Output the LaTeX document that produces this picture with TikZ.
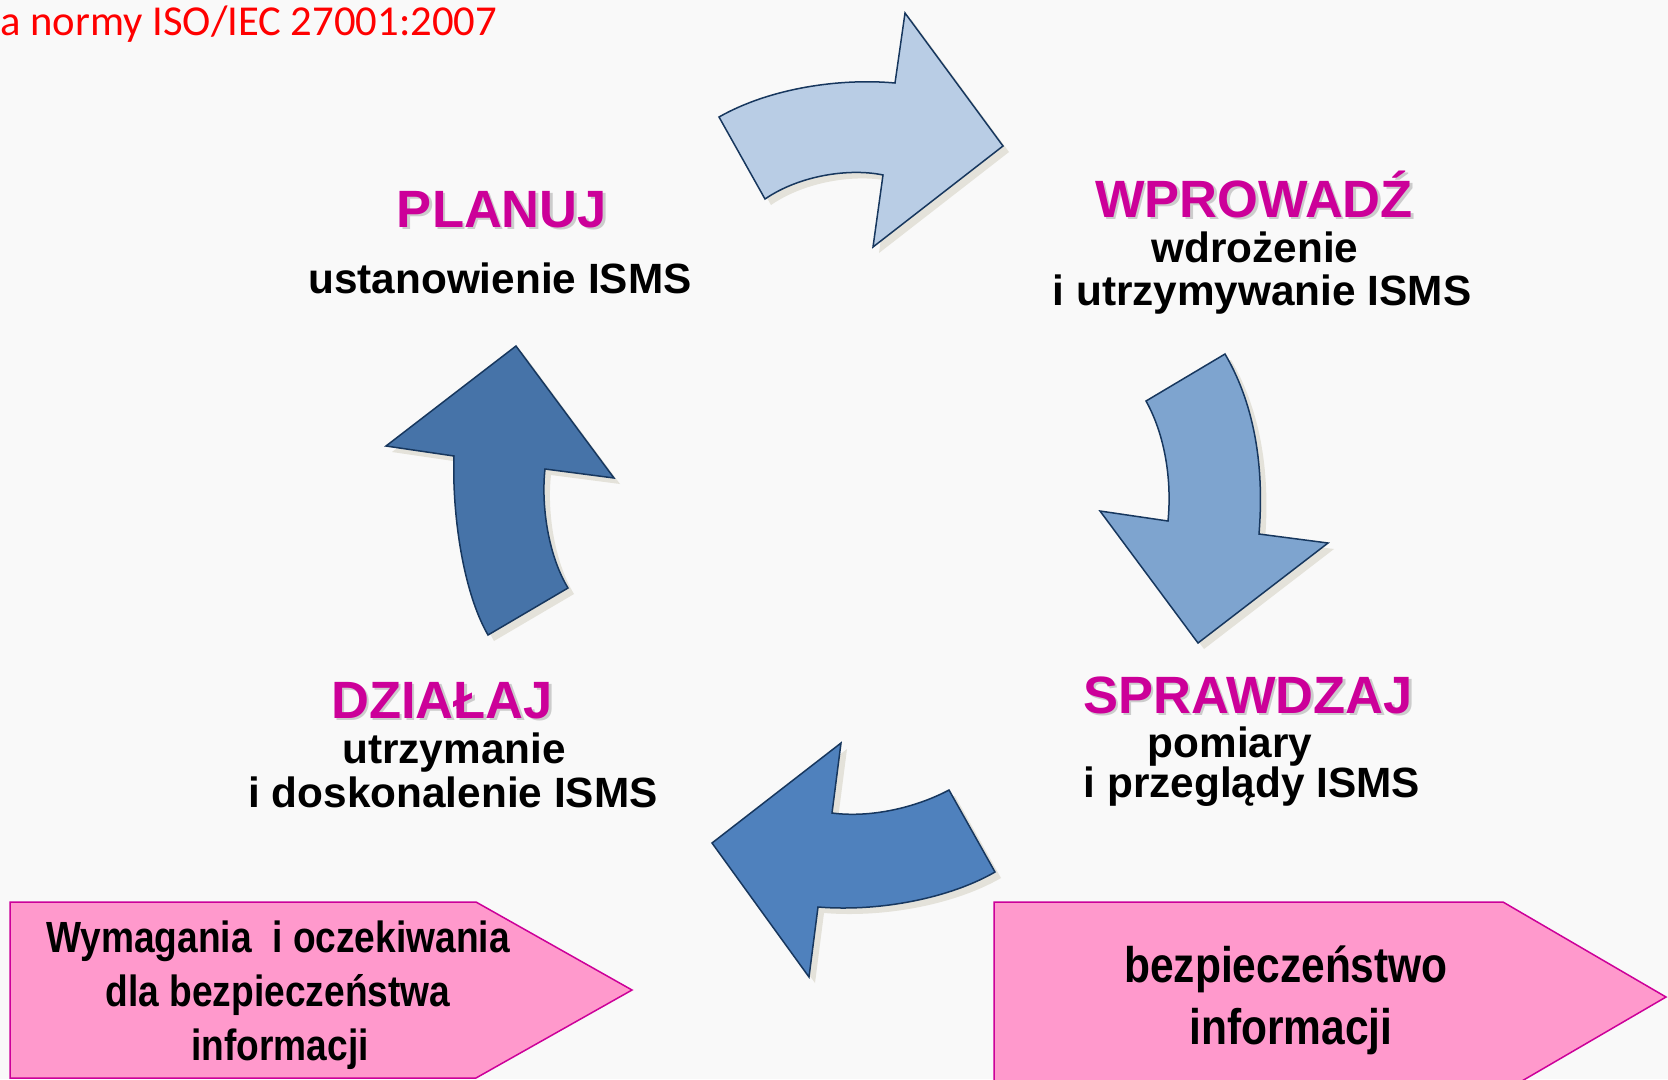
\documentclass[tikz,border=0pt]{standalone}
\usepackage{fontspec}
\setmainfont{Liberation Sans}
\newfontfamily\calib{Carlito}
\newfontfamily\narrowsf[FakeStretch=0.85]{Liberation Sans}
\definecolor{bgc}{RGB}{249,249,249}
\definecolor{mag}{RGB}{204,0,153}
\definecolor{pinkf}{RGB}{255,153,204}
\definecolor{edgec}{RGB}{23,55,94}
\definecolor{shadowc}{RGB}{228,226,218}
\definecolor{aone}{RGB}{185,205,229}
\definecolor{atwo}{RGB}{126,164,207}
\definecolor{athree}{RGB}{79,129,189}
\definecolor{afour}{RGB}{70,115,168}
\definecolor{redt}{RGB}{255,0,0}
\begin{document}
\begin{tikzpicture}[x=0.6pt,y=-0.6pt,
  heading/.style={anchor=base,inner sep=0pt,text=mag,font=\bfseries\fontsize{31.5}{36}\selectfont},
  hshadow/.style={anchor=base,inner sep=0pt,text=black!20,font=\bfseries\fontsize{31.5}{36}\selectfont},
  body/.style={anchor=base,inner sep=0pt,font=\bfseries\fontsize{25.4}{30}\selectfont},
  lbox/.style={anchor=base,inner sep=0pt,font=\narrowsf\bfseries\fontsize{26.2}{30}\selectfont},
  rbox/.style={anchor=base,inner sep=0pt,font=\narrowsf\bfseries\fontsize{30}{34}\selectfont},
  pentagon/.style={fill=pinkf,draw=mag,line width=0.9pt},
  arrowbody/.style={draw=edgec,line width=0.9pt,line join=miter},
  shadowbody/.style={fill=shadowc},
  arrowone/.pic={\path[pic actions] (719,117) .. controls (770,88) and (840,78) .. (895,83)
      -- (905,13) -- (1003,146) -- (873,247) -- (883,175)
      .. controls (850,168) and (800,175) .. (765,199) -- cycle;},
  arrowtwo/.pic={\path[pic actions] (1225,354) .. controls (1252,400) and (1265,460) .. (1259,534)
      -- (1328,543) -- (1198,643) -- (1100,511) -- (1168,521)
      .. controls (1172,480) and (1165,435) .. (1146,401) -- cycle;},
  arrowthree/.pic={\path[pic actions] (949,790) -- (995,872)
      .. controls (950,898) and (880,912) .. (818,907)
      -- (809,977) -- (712,843) -- (841,743) -- (832,813)
      .. controls (870,818) and (915,808) .. (949,790) -- cycle;},
  arrowfour/.pic={\path[pic actions] (516,346) -- (614,478) -- (545,469)
      .. controls (541,505) and (548,555) .. (568,588)
      -- (488,635) .. controls (462,590) and (452,510) .. (454,456)
      -- (386,446) -- cycle;}
]
\useasboundingbox (0,0) rectangle (1668,1079);
\fill[bgc] (0,0) rectangle (1668,1079);

% title fragment
\node[anchor=base west,inner sep=0pt,text=redt,font=\calib\fontsize{25.6}{30}\selectfont] (title) at (0,35) {a normy ISO/IEC 27001:2007};

% arrow shadows
\pic[shadowbody] at (6,6) {arrowone};
\pic[shadowbody] at (6,6) {arrowtwo};
\pic[shadowbody] at (6,6) {arrowthree};
\pic[shadowbody] at (6,6) {arrowfour};
% arrows
\pic[arrowbody,fill=aone] at (0,0) {arrowone};
\pic[arrowbody,fill=atwo] at (0,0) {arrowtwo};
\pic[arrowbody,fill=athree] at (0,0) {arrowthree};
\pic[arrowbody,fill=afour] at (0,0) {arrowfour};

% headings with shadows
\node[hshadow] (planS) at (504.5,229.5) {PLANUJ};
\node[heading] (plan) at (502,227) {PLANUJ};
\node[hshadow] (doS) at (1256.5,219.5) {WPROWADŹ};
\node[heading] (do) at (1254,217) {WPROWADŹ};
\node[hshadow] (checkS) at (1250.5,715.5) {SPRAWDZAJ};
\node[heading] (check) at (1248,713) {SPRAWDZAJ};
\node[hshadow] (actS) at (444.5,720.5) {DZIAŁAJ};
\node[heading] (act) at (442,718) {DZIAŁAJ};

% body texts
\node[body] (plan1) at (500,293) {ustanowienie ISMS};
\node[body] (do1) at (1255,262) {wdrożenie};
\node[body] (do2) at (1262,305) {i utrzymywanie ISMS};
\node[body] (check1) at (1230,757) {pomiary};
\node[body] (check2) at (1252,797) {i przeglądy ISMS};
\node[body] (act1) at (454,763) {utrzymanie};
\node[body] (act2) at (453,807) {i doskonalenie ISMS};

% pink boxes
\draw[pentagon] (10,902) -- (476,902) -- (632,990) -- (476,1078) -- (10,1078) -- cycle;
\draw[pentagon] (994,902) -- (1503,902) -- (1666,997) -- (1503,1092) -- (994,1092) -- cycle;

\node[lbox] (req1) at (278,952) {Wymagania~ i oczekiwania};
\node[lbox] (req2) at (278,1006) {dla bezpieczeństwa};
\node[lbox] (req3) at (280,1060) {informacji};
\node[rbox] (sec1) at (1286,982) {bezpieczeństwo};
\node[rbox] (sec2) at (1291,1044) {informacji};
\end{tikzpicture}
\end{document}
